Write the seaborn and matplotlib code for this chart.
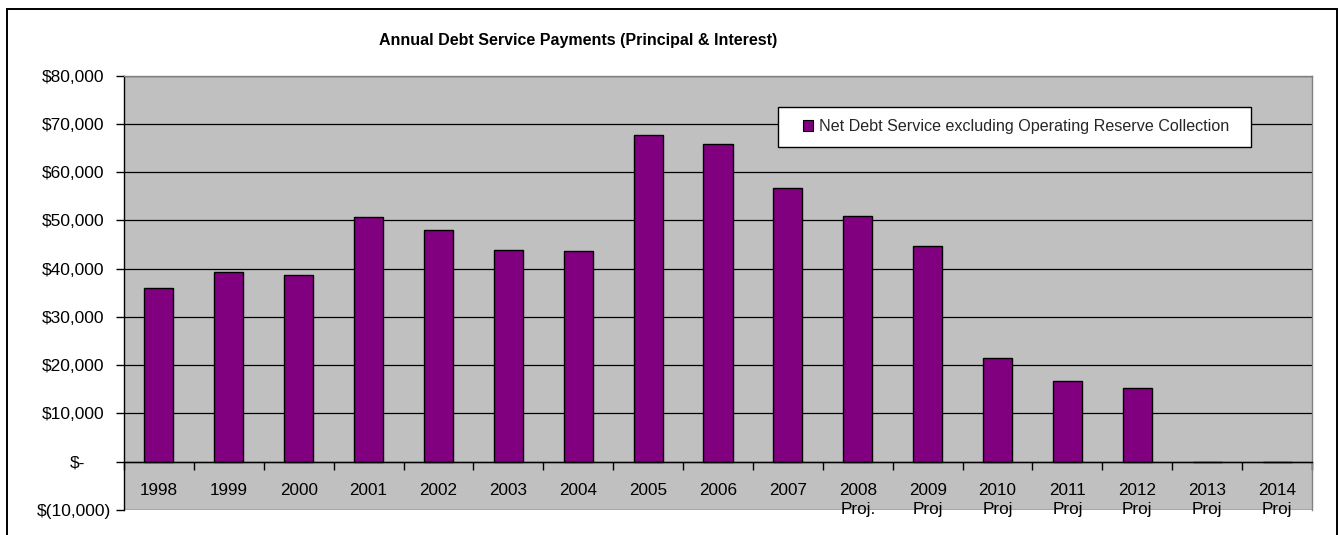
import numpy as np
import pandas as pd
import matplotlib
matplotlib.use("Agg")
import matplotlib.pyplot as plt
import seaborn as sns
from matplotlib.patches import Rectangle, Patch
from matplotlib.ticker import FixedLocator
from matplotlib.transforms import ScaledTranslation

# ---------------- data ----------------
categories = ["1998", "1999", "2000", "2001", "2002", "2003", "2004", "2005",
              "2006", "2007", "2008\nProj.", "2009\nProj", "2010\nProj",
              "2011\nProj", "2012\nProj", "2013\nProj", "2014\nProj"]
net_debt_service = [35900, 39200, 38600, 50600, 48000, 43900, 43700, 67600,
                    65800, 56800, 51000, 44600, 21400, 16700, 15300, 0, 0]
series_name = "Net Debt Service excluding Operating Reserve Collection"
y_ticks = [-10000, 0, 10000, 20000, 30000, 40000, 50000, 60000, 70000, 80000]
y_tick_labels = ["$(10,000)", "$-", "$10,000", "$20,000", "$30,000", "$40,000",
                 "$50,000", "$60,000", "$70,000", "$80,000"]
title = "Annual Debt Service Payments (Principal & Interest)"

# ---------------- style ----------------
sns.set_theme(style="white")
plt.rcParams['font.family'] = ['Liberation Sans', 'DejaVu Sans']

W, H = 1338, 535
fig = plt.figure(figsize=(W / 100, H / 100), dpi=100)
fig.patch.set_facecolor("white")

ax_left, ax_right, ax_top, ax_bottom = 124, 1312, 75.5, 510
ax = fig.add_axes([ax_left / W, 1 - ax_bottom / H,
                   (ax_right - ax_left) / W, (ax_bottom - ax_top) / H])

df = pd.DataFrame({"Year": categories, "Value": net_debt_service,
                   "Series": [series_name] * len(categories)})
sns.barplot(data=df, x="Year", y="Value", hue="Series", order=categories,
            palette=["#800080"], dodge=False, width=0.415,
            edgecolor="black", linewidth=1.0, saturation=1.0,
            legend=False, ax=ax)

ax.set_facecolor("#C0C0C0")
ax.set_xlim(-0.5, len(categories) - 0.5)
ax.set_ylim(-10000, 80000)
ax.set_xlabel("")
ax.set_ylabel("")

# grid
ax.set_yticks(y_ticks)
ax.set_yticklabels(y_tick_labels)
ax.yaxis.grid(True, color="black", linewidth=0.9)
ax.xaxis.grid(False)
ax.set_axisbelow(True)

# spines
ax.spines["left"].set_color("black")
ax.spines["left"].set_linewidth(1.0)
ax.spines["bottom"].set_position(("data", 0))
ax.spines["bottom"].set_color("black")
ax.spines["bottom"].set_linewidth(1.0)
for s in ["top", "right"]:
    ax.spines[s].set_visible(True)
    ax.spines[s].set_color("#808080")
    ax.spines[s].set_linewidth(1.0)

# x ticks: separators at category boundaries, labels centred
ax.xaxis.set_minor_locator(FixedLocator(np.arange(-0.5, len(categories), 1.0)))
ax.tick_params(axis="x", which="minor", bottom=True, length=6, width=1,
               color="black", direction="out")
ax.tick_params(axis="x", which="major", bottom=True, length=0, pad=15.0,
               labelsize=12.3, labelcolor="black")
ax.tick_params(axis="y", which="major", left=True, length=6, width=1,
               color="black", direction="out", pad=3.6,
               labelsize=12.5, labelcolor="black")
for lbl in ax.get_xticklabels():
    lbl.set_linespacing(1.33)

# accounting-format alignment of y labels
offsets_px = {"$(10,000)": 0.0, "$-": 25.0}
for lbl in ax.get_yticklabels():
    off = offsets_px.get(lbl.get_text(), 6.7)
    lbl.set_transform(lbl.get_transform() +
                      ScaledTranslation(-off / 100, 0, fig.dpi_scale_trans))

# legend with white box
leg_box = Rectangle((778 / W, 1 - 147 / H), (1251 - 778) / W, 40 / H,
                    transform=fig.transFigure, facecolor="white",
                    edgecolor="black", linewidth=1.0, zorder=4, clip_on=False)
fig.add_artist(leg_box)
handle = Patch(facecolor="#800080", edgecolor="black", linewidth=0.8,
               label=series_name)
leg = fig.legend(handles=[handle], labels=[series_name], loc="center left",
                 bbox_to_anchor=(802.5 / W, 1 - 127 / H),
                 bbox_transform=fig.transFigure, frameon=False,
                 borderpad=0, borderaxespad=0, handlelength=0.65,
                 handleheight=0.65, handletextpad=0.38, fontsize=11.6)
leg.set_zorder(5)

# title
fig.text(578.5 / W, 1 - 41 / H, title, ha="center", va="center",
         fontsize=11.5, fontweight="bold", color="black")

# outer chart border
border = Rectangle((7 / W, -0.05), (1336.5 - 7) / W, (1 - 9 / H) + 0.05,
                   transform=fig.transFigure, facecolor="none",
                   edgecolor="black", linewidth=1.4, clip_on=False, zorder=0)
fig.add_artist(border)

fig.savefig("out.png", dpi=100)
